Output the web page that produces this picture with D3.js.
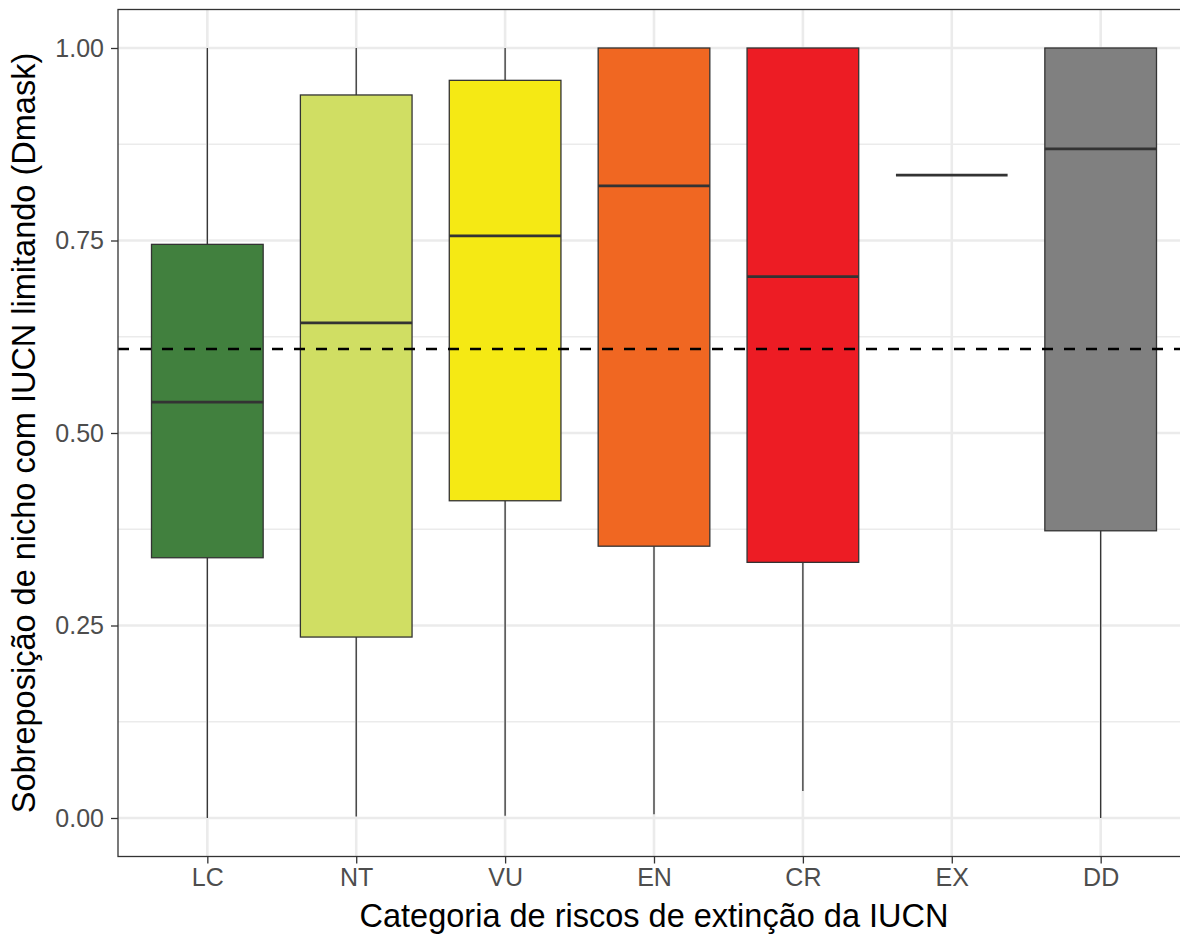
<!DOCTYPE html>
<html>
<head>
<meta charset="utf-8">
<script src="https://cdn.jsdelivr.net/npm/d3@7"></script>
<style>
  html, body { margin: 0; padding: 0; background: #ffffff; }
  svg { display: block; }
</style>
</head>
<body>
<script>
// ---- data ----
const categories = ["LC", "NT", "VU", "EN", "CR", "EX", "DD"];
const whiskerLow = [0.000, 0.002, 0.003, 0.005, 0.035, 0.835, 0.000];
const q1 = [0.338, 0.235, 0.412, 0.353, 0.332, 0.835, 0.373];
const medians = [0.540, 0.643, 0.756, 0.821, 0.703, 0.835, 0.869];
const q3 = [0.745, 0.939, 0.958, 1.000, 1.000, 0.835, 1.000];
const whiskerHigh = [1.000, 1.000, 1.000, 1.000, 1.000, 0.835, 1.000];
const fills = ["#41803e", "#d0de63", "#f5e914", "#f06722", "#ed1c24", "#ffffff", "#808080"];
const refLine = 0.609;
const yTicks = [0, 0.25, 0.5, 0.75, 1.0];
const yMinor = [0.125, 0.375, 0.625, 0.875];
const xTitle = "Categoria de riscos de extinção da IUCN";
const yTitle = "Sobreposição de nicho com IUCN limitando (Dmask)";

const W = 1180, H = 935;
const panel = { left: 118, top: 9.5, right: 1190, bottom: 856.5 };

const svg = d3.select("body").append("svg").attr("width", W).attr("height", H);

const x = d3.scalePoint().domain(categories).range([panel.left, panel.right]).padding(0.6);
const y = d3.scaleLinear().domain([-0.05, 1.05]).range([panel.bottom, panel.top]);
const boxW = x.step() * 0.75;

const rows = categories.map((c, i) => ({
  c, lo: whiskerLow[i], q1: q1[i], med: medians[i], q3: q3[i], hi: whiskerHigh[i], fill: fills[i]
}));

svg.append("clipPath").attr("id", "pc").append("rect")
  .attr("x", panel.left).attr("y", panel.top)
  .attr("width", panel.right - panel.left).attr("height", panel.bottom - panel.top);

const g = svg.append("g").attr("clip-path", "url(#pc)");

// grid
g.selectAll("line.minor").data(yMinor).join("line")
  .attr("x1", panel.left).attr("x2", panel.right)
  .attr("y1", d => y(d)).attr("y2", d => y(d))
  .attr("stroke", "#ebebeb").attr("stroke-width", 1.3);
g.selectAll("line.majY").data(yTicks).join("line")
  .attr("x1", panel.left).attr("x2", panel.right)
  .attr("y1", d => y(d)).attr("y2", d => y(d))
  .attr("stroke", "#ebebeb").attr("stroke-width", 2.6);
g.selectAll("line.majX").data(categories).join("line")
  .attr("x1", d => x(d)).attr("x2", d => x(d))
  .attr("y1", panel.top).attr("y2", panel.bottom)
  .attr("stroke", "#ebebeb").attr("stroke-width", 2.6);

// whiskers
g.selectAll("line.wl").data(rows.filter(r => r.lo < r.q1)).join("line")
  .attr("x1", d => x(d.c)).attr("x2", d => x(d.c))
  .attr("y1", d => y(d.lo)).attr("y2", d => y(d.q1))
  .attr("stroke", "#333333").attr("stroke-width", 1.3);
g.selectAll("line.wh").data(rows.filter(r => r.hi > r.q3)).join("line")
  .attr("x1", d => x(d.c)).attr("x2", d => x(d.c))
  .attr("y1", d => y(d.q3)).attr("y2", d => y(d.hi))
  .attr("stroke", "#333333").attr("stroke-width", 1.3);

// boxes
g.selectAll("rect.box").data(rows.filter(r => r.q3 > r.q1)).join("rect")
  .attr("x", d => x(d.c) - boxW / 2).attr("width", boxW)
  .attr("y", d => y(d.q3)).attr("height", d => y(d.q1) - y(d.q3))
  .attr("fill", d => d.fill).attr("stroke", "#333333").attr("stroke-width", 1.3);

// medians
g.selectAll("line.med").data(rows).join("line")
  .attr("x1", d => x(d.c) - boxW / 2).attr("x2", d => x(d.c) + boxW / 2)
  .attr("y1", d => y(d.med)).attr("y2", d => y(d.med))
  .attr("stroke", "#333333").attr("stroke-width", 2.8);

// reference dashed line
g.append("line")
  .attr("x1", panel.left).attr("x2", panel.right)
  .attr("y1", y(refLine)).attr("y2", y(refLine))
  .attr("stroke", "#000000").attr("stroke-width", 2.4)
  .attr("stroke-dasharray", "11,11");

// panel border
svg.append("rect")
  .attr("x", panel.left).attr("y", panel.top)
  .attr("width", panel.right - panel.left).attr("height", panel.bottom - panel.top)
  .attr("fill", "none").attr("stroke", "#333333").attr("stroke-width", 1.3);

// axes
const font = "'Liberation Sans', Arial, Helvetica, sans-serif";
const yAxis = svg.append("g").attr("transform", `translate(${panel.left},0)`)
  .call(d3.axisLeft(y).tickValues(yTicks).tickFormat(d3.format(".2f")).tickSize(7).tickPadding(7));
const xAxis = svg.append("g").attr("transform", `translate(0,${panel.bottom})`)
  .call(d3.axisBottom(x).tickSize(7).tickPadding(5));
[yAxis, xAxis].forEach(a => {
  a.select(".domain").remove();
  a.selectAll(".tick line").attr("stroke", "#333333").attr("stroke-width", 1.3);
  a.selectAll(".tick text").attr("fill", "#4d4d4d").style("font-family", font).style("font-size", "25px");
});

// titles
svg.append("text")
  .attr("x", (panel.left + panel.right) / 2).attr("y", 927)
  .attr("text-anchor", "middle")
  .style("font-family", font).style("font-size", "32.5px").attr("fill", "#000")
  .text(xTitle);
svg.append("text")
  .attr("transform", `translate(35,${(panel.top + panel.bottom) / 2}) rotate(-90)`)
  .attr("text-anchor", "middle")
  .style("font-family", font).style("font-size", "32.5px").attr("fill", "#000")
  .text(yTitle);
</script>
</body>
</html>
